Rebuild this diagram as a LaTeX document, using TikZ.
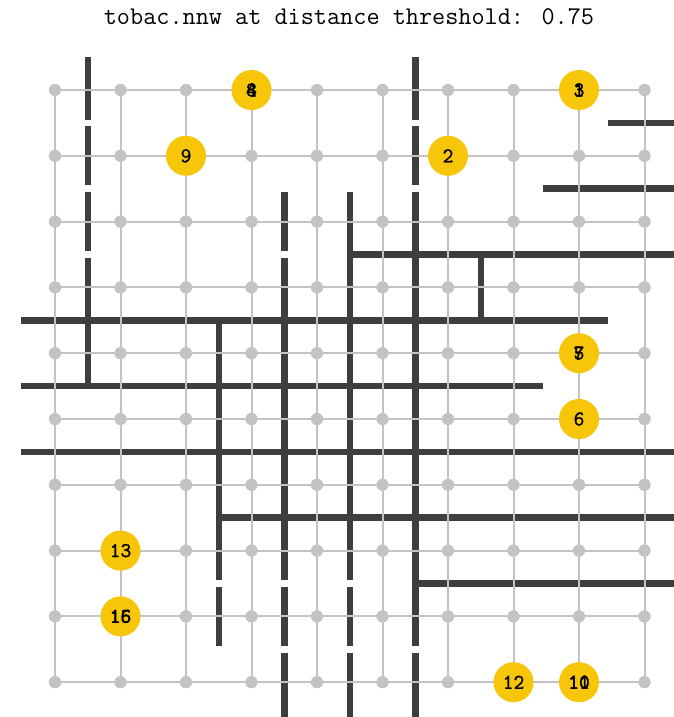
\documentclass[tikz,border=0pt]{standalone}
\usepackage{fontspec}
\newfontfamily\labfont[FakeBold=1.2]{Latin Modern Mono}
\definecolor{sepc}{RGB}{62,62,62}
\definecolor{gridc}{RGB}{195,195,195}
\definecolor{unitc}{RGB}{247,198,8}
\tikzset{
  sepline/.style={draw=sepc, line width=6.5pt},
  gridline/.style={draw=gridc, line width=2pt},
  dot/.style={circle, fill=gridc, inner sep=0pt, minimum size=12pt},
  unit/.style={circle, fill=unitc, inner sep=0pt, minimum size=40pt, font=\labfont\fontsize{21}{21}\selectfont},
  unitlab/.style={inner sep=0pt, font=\labfont\fontsize{21}{21}\selectfont},
}
\begin{document}
\begin{tikzpicture}[x=1pt,y=-1pt]
\useasboundingbox (0,0) rectangle (674,717);
\clip (0,0) rectangle (674,717);
\fill[white] (0,0) rectangle (674,717);
\node[anchor=base, inner sep=0pt, font=\ttfamily\fontsize{25.5}{28}\selectfont] (title) at (349,25) {tobac.nnw at distance threshold: 0.75};
\begin{scope}[shift={(55,90)}, x=65.5pt, y=-65.8pt]
  % separators
  \draw[sepline] (0.5,-0.5) -- (0.5,0.45);
  \draw[sepline] (0.5,0.55) -- (0.5,1.45);
  \draw[sepline] (0.5,1.55) -- (0.5,2.45);
  \draw[sepline] (0.5,2.55) -- (0.5,4.5);
  \draw[sepline] (2.5,3.5) -- (2.5,7.45);
  \draw[sepline] (2.5,7.55) -- (2.5,8.45);
  \draw[sepline] (3.5,1.55) -- (3.5,2.45);
  \draw[sepline] (3.5,2.55) -- (3.5,7.45);
  \draw[sepline] (3.5,7.55) -- (3.5,8.45);
  \draw[sepline] (3.5,8.55) -- (3.5,9.6);
  \draw[sepline] (4.5,1.55) -- (4.5,7.45);
  \draw[sepline] (4.5,7.55) -- (4.5,8.45);
  \draw[sepline] (4.5,8.55) -- (4.5,9.6);
  \draw[sepline] (5.5,-0.5) -- (5.5,0.45);
  \draw[sepline] (5.5,0.55) -- (5.5,1.45);
  \draw[sepline] (5.5,1.55) -- (5.5,8.45);
  \draw[sepline] (5.5,8.55) -- (5.5,9.6);
  \draw[sepline] (6.5,2.5) -- (6.5,3.5);
  \draw[sepline] (8.45,0.5) -- (9.6,0.5);
  \draw[sepline] (7.45,1.5) -- (9.6,1.5);
  \draw[sepline] (4.47,2.5) -- (9.6,2.5);
  \draw[sepline] (-0.52,3.5) -- (8.45,3.5);
  \draw[sepline] (-0.52,4.5) -- (7.45,4.5);
  \draw[sepline] (-0.52,5.5) -- (9.6,5.5);
  \draw[sepline] (2.47,6.5) -- (9.6,6.5);
  \draw[sepline] (5.47,7.5) -- (9.6,7.5);
  % grid dots
  \foreach \i in {0,...,9}{
    \foreach \j in {0,...,9}{
      \node[dot] (d-\i-\j) at (\i,\j) {};
    }
  }
  % grid lines
  \foreach \i in {0,...,9}{
    \draw[gridline] (d-\i-0.center) -- (d-\i-9.center);
    \draw[gridline] (d-0-\i.center) -- (d-9-\i.center);
  }
  \foreach \i in {0,...,9}{
    \foreach \j in {0,...,9}{
      \fill[gridc] (d-\i-\j) circle (6pt);
    }
  }
  % units
  \node[unit] (u8) at (3,0) {8};
  \node[unitlab] at (u8) {4};
  \node[unit] (u3) at (8,0) {3};
  \node[unitlab] at (u3) {1};
  \node[unit] (u9) at (2,1) {9};
  \node[unit] (u2) at (6,1) {2};
  \node[unit] (u5) at (8,4) {5};
  \node[unitlab] at (u5) {7};
  \node[unit] (u6) at (8,5) {6};
  \node[unit] (u13) at (1,7) {13};
  \node[unit] (u15) at (1,8) {15};
  \node[unitlab] at (u15) {16};
  \node[unit] (u12) at (7,9) {12};
  \node[unit] (u10) at (8,9) {10};
  \node[unitlab] at (u10) {11};
\end{scope}
\end{tikzpicture}
\end{document}
